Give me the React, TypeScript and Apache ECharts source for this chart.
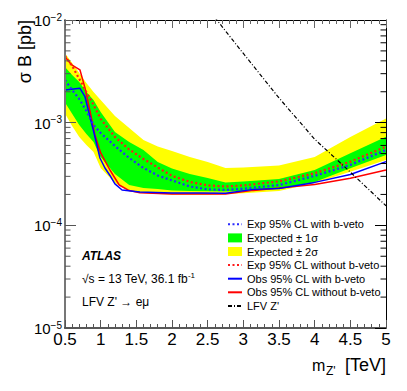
import React, { useEffect, useRef } from "react";
import * as echarts from "echarts";

const FONT = "'Liberation Sans', Arial, Helvetica, sans-serif";

// Expected limits (grid of masses, TeV) and values (pb)
const massExp = [0.5, 0.6, 0.7, 0.8, 0.9, 1.0, 1.2, 1.4, 1.6, 1.8, 2.0, 2.25, 2.5, 2.75, 3.0, 3.5, 4.0, 4.5, 5.0];
const expBveto = [2.605e-3, 2.082e-3, 1.701e-3, 1.3e-3, 9.5e-4, 7.94e-4, 5.93e-4, 4.53e-4, 3.62e-4, 3.06e-4, 2.74e-4, 2.39e-4, 2.24e-4, 2.21e-4, 2.27e-4, 2.47e-4, 3.03e-4, 3.87e-4, 5.42e-4];
const expNoBveto = [4.46e-3, 3.57e-3, 2.67e-3, 1.99e-3, 1.49e-3, 1.09e-3, 7.26e-4, 5.48e-4, 4.43e-4, 3.66e-4, 3.03e-4, 2.65e-4, 2.45e-4, 2.39e-4, 2.45e-4, 2.68e-4, 3.22e-4, 4.17e-4, 5.84e-4];
const oneSigmaHi = [3.49e-3, 2.91e-3, 2.49e-3, 1.99e-3, 1.66e-3, 1.27e-3, 8.12e-4, 6.49e-4, 5.42e-4, 4.14e-4, 3.58e-4, 3.17e-4, 2.89e-4, 2.62e-4, 2.68e-4, 2.83e-4, 3.46e-4, 5.04e-4, 7.31e-4];
const oneSigmaLo = [1.57e-3, 1.22e-3, 9.5e-4, 7.76e-4, 6.49e-4, 4.63e-4, 3.17e-4, 2.47e-4, 2.31e-4, 2.26e-4, 2.19e-4, 2.16e-4, 2.15e-4, 2.13e-4, 2.16e-4, 2.26e-4, 2.65e-4, 3.6e-4, 4.85e-4];
const twoSigmaHi = [4.74e-3, 3.81e-3, 3.05e-3, 2.44e-3, 1.99e-3, 1.66e-3, 1.16e-3, 8.88e-4, 6.79e-4, 5.87e-4, 5.3e-4, 4.63e-4, 4.14e-4, 3.62e-4, 3.66e-4, 3.83e-4, 4.63e-4, 7.26e-4, 1.1e-3];
const twoSigmaLo = [1.23e-3, 9.29e-4, 7.26e-4, 6.07e-4, 5.19e-4, 3.62e-4, 2.59e-4, 2.16e-4, 2.07e-4, 2.02e-4, 2.0e-4, 2.0e-4, 2.0e-4, 2.02e-4, 2.05e-4, 2.16e-4, 2.59e-4, 3.33e-4, 4.33e-4];

// Observed limits
const massObsBveto = [0.5, 0.71, 0.78, 0.85, 0.9, 0.99, 1.06, 1.13, 1.2, 1.3, 1.55, 2.0, 2.4, 2.75, 3.14, 3.5, 4.0, 4.5, 5.0];
const obsBveto = [2.08e-3, 2.16e-3, 1.79e-3, 1.14e-3, 8.3e-4, 4.53e-4, 3.62e-4, 3.06e-4, 2.53e-4, 2.21e-4, 2.11e-4, 2.07e-4, 2.07e-4, 2.05e-4, 2.24e-4, 2.29e-4, 2.62e-4, 3.13e-4, 4.17e-4];
const massObsNoBveto = [0.5, 0.594, 0.71, 0.78, 0.85, 0.92, 1.0, 1.13, 1.26, 1.4, 1.55, 2.0, 2.4, 2.75, 3.14, 3.5, 4.0, 4.5, 5.0];
const obsNoBveto = [4.39e-3, 3.65e-3, 3.26e-3, 2.18e-3, 1.3e-3, 7.59e-4, 5.07e-4, 3.46e-4, 2.47e-4, 2.18e-4, 2.08e-4, 2.02e-4, 2.02e-4, 2.02e-4, 2.19e-4, 2.31e-4, 2.5e-4, 2.88e-4, 3.46e-4];

// Theory LFV Z'
const massZp = [2.6, 3.0, 3.5, 4.0, 4.5, 5.0];
const xsecZp = [1.06e-2, 4.72e-3, 1.74e-3, 6.9e-4, 3.3e-4, 1.55e-4];

// Axis ticks
const xMin = 0.5;
const xMax = 5;
const xStep = 0.5;
const yMin = 1e-5;
const yMax = 1e-2;
const yMinorTicks = [
  2e-5, 3e-5, 4e-5, 5e-5, 6e-5, 7e-5, 8e-5, 9e-5,
  2e-4, 3e-4, 4e-4, 5e-4, 6e-4, 7e-4, 8e-4, 9e-4,
  2e-3, 3e-3, 4e-3, 5e-3, 6e-3, 7e-3, 8e-3, 9e-3,
];

const NAMES = {
  expB: "Exp 95% CL with b-veto",
  s1: "Expected ± 1σ",
  s2: "Expected ± 2σ",
  expN: "Exp 95% CL without b-veto",
  obsB: "Obs 95% CL with b-veto",
  obsN: "Obs 95% CL without b-veto",
  zp: "LFV Z'",
};

function bandSeries(name: string, color: string, lo: number[], hi: number[], z: number) {
  return {
    type: "custom",
    name,
    silent: true,
    z,
    itemStyle: { color },
    data: massExp.map((m, i) => [m, lo[i], hi[i]]),
    encode: { x: 0, y: [1, 2] },
    renderItem: (params: any, api: any) => {
      if (params.dataIndex !== 0) return null;
      const up = massExp.map((m, i) => api.coord([m, hi[i]]));
      const dn = massExp.map((m, i) => api.coord([m, lo[i]])).reverse();
      return {
        type: "polygon",
        shape: { points: up.concat(dn) },
        style: { fill: color, stroke: null },
      };
    },
  };
}

function lineSeries(name: string, xs: number[], ys: number[], color: string, width: number, type: any, z: number) {
  return {
    type: "line",
    name,
    z,
    data: xs.map((x, i) => [x, ys[i]]),
    showSymbol: false,
    symbol: "none",
    clip: true,
    lineStyle: { color, width, type },
    itemStyle: { color },
  };
}

export default function App() {
  const ref = useRef<HTMLDivElement>(null);
  useEffect(() => {
    document.body.style.margin = "0";
    if (!ref.current) return;
    const chart = echarts.init(ref.current, null, { renderer: "svg" });

    const xAxisCommon = {
      type: "value",
      min: xMin,
      max: xMax,
      interval: xStep,
      z: 5,
      splitLine: { show: false },
    };
    const yAxisCommon = {
      type: "log",
      logBase: 10,
      min: yMin,
      max: yMax,
      z: 5,
      splitLine: { show: false },
      minorTick: { show: false },
    };
    const hideSym = { itemStyle: { opacity: 0 } };

    const option: any = {
      animation: false,
      backgroundColor: "#ffffff",
      textStyle: { fontFamily: FONT },
      grid: { left: 65, right: 21, top: 20, bottom: 63, containLabel: false },
      xAxis: [
        {
          ...xAxisCommon,
          position: "bottom",
          axisLine: { show: true, onZero: false, lineStyle: { color: "#222", width: 1.5 } },
          axisTick: { show: true, inside: true, length: 8, lineStyle: { color: "#555", width: 1 } },
          minorTick: { show: true, splitNumber: 5, length: 4, lineStyle: { color: "#555", width: 1 } },
          axisLabel: { fontSize: 17, color: "#000", margin: 3, fontFamily: FONT },
        },
        {
          ...xAxisCommon,
          position: "top",
          axisLine: { show: true, onZero: false, lineStyle: { color: "#000", width: 1 } },
          axisTick: { show: true, inside: true, length: 8, lineStyle: { color: "#666", width: 1 } },
          minorTick: { show: true, splitNumber: 5, length: 4, lineStyle: { color: "#666", width: 1 } },
          axisLabel: { show: false },
        },
      ],
      yAxis: [
        {
          ...yAxisCommon,
          position: "left",
          axisLine: { show: true, onZero: false, lineStyle: { color: "#777", width: 2 } },
          axisTick: { show: true, inside: true, length: 11, lineStyle: { color: "#555", width: 1 } },
          axisLabel: {
            margin: 3,
            color: "#000",
            formatter: (v: number) => {
              const e = Math.round(Math.log10(v));
              return "{b|10}{s|" + (e < 0 ? "−" + -e : String(e)) + "}";
            },
            rich: {
              b: { fontSize: 15, fontFamily: FONT, color: "#000", lineHeight: 16, verticalAlign: "bottom" },
              s: { fontSize: 10, fontFamily: FONT, color: "#000", lineHeight: 10, verticalAlign: "top" },
            },
          },
        },
        {
          ...yAxisCommon,
          position: "right",
          axisLine: { show: true, onZero: false, lineStyle: { color: "#000", width: 1 } },
          axisTick: { show: true, inside: true, length: 11, lineStyle: { color: "#000", width: 1 } },
          axisLabel: { show: false },
        },
      ],
      legend: {
        orient: "vertical",
        left: 227,
        top: 217.5,
        itemWidth: 14,
        itemHeight: 9,
        itemGap: 0,
        padding: 0,
        selectedMode: false,
        textStyle: { fontSize: 11, lineHeight: 13.6, color: "#000", fontFamily: FONT },
        data: [
          { name: NAMES.expB, ...hideSym },
          { name: NAMES.s1, icon: "rect" },
          { name: NAMES.s2, icon: "rect" },
          { name: NAMES.expN, ...hideSym },
          { name: NAMES.obsB, ...hideSym },
          { name: NAMES.obsN, ...hideSym },
          { name: NAMES.zp, ...hideSym },
        ],
      },
      graphic: [
        {
          type: "text",
          x: 25,
          y: 20,
          rotation: Math.PI / 2,
          style: { text: "σ B [pb]", fontSize: 18, fontFamily: FONT, fill: "#000", align: "right", verticalAlign: "middle" },
        },
        {
          type: "text",
          x: 312,
          y: 365,
          style: { text: "m", fontSize: 16, fontFamily: FONT, fill: "#000", align: "left", verticalAlign: "middle" },
        },
        {
          type: "text",
          x: 326,
          y: 371,
          style: { text: "Z'", fontSize: 12, fontFamily: FONT, fill: "#000", align: "left", verticalAlign: "middle" },
        },
        {
          type: "text",
          x: 386,
          y: 365,
          style: { text: "[TeV]", fontSize: 18, fontFamily: FONT, fill: "#000", align: "right", verticalAlign: "middle" },
        },
        {
          type: "text",
          x: 82,
          y: 256,
          style: { text: "ATLAS", fontSize: 12, fontWeight: "bold", fontStyle: "italic", fontFamily: FONT, fill: "#000", align: "left", verticalAlign: "middle" },
        },
        {
          type: "text",
          x: 82,
          y: 278,
          style: {
            text: "{n|√s = 13 TeV, 36.1 fb}{s|-1}",
            align: "left",
            verticalAlign: "middle",
            rich: {
              n: { fontSize: 12, fontFamily: FONT, fill: "#000", color: "#000", lineHeight: 14, verticalAlign: "bottom" },
              s: { fontSize: 8, fontFamily: FONT, fill: "#000", color: "#000", lineHeight: 8, verticalAlign: "top" },
            },
          },
        },
        {
          type: "text",
          x: 82,
          y: 302,
          style: { text: "LFV Z' → eμ", fontSize: 12, fontFamily: FONT, fill: "#000", align: "left", verticalAlign: "middle" },
        },
      ],
      series: [
        bandSeries(NAMES.s2, "#ffff00", twoSigmaLo, twoSigmaHi, 1),
        bandSeries(NAMES.s1, "#00ff00", oneSigmaLo, oneSigmaHi, 1.5),
        {
          type: "custom",
          name: "minor-ticks",
          silent: true,
          z: 6,
          data: yMinorTicks.map((v) => [xMin, v]),
          encode: { x: 0, y: 1 },
          renderItem: (params: any, api: any) => {
            const p = api.coord([api.value(0), api.value(1)]);
            const cs = params.coordSys;
            const xl = cs.x;
            const xr = cs.x + cs.width;
            return {
              type: "group",
              children: [
                { type: "line", shape: { x1: xl, y1: p[1], x2: xl + 5.5, y2: p[1] }, style: { stroke: "#555", lineWidth: 1 } },
                { type: "line", shape: { x1: xr - 5.5, y1: p[1], x2: xr, y2: p[1] }, style: { stroke: "#000", lineWidth: 1 } },
              ],
            };
          },
        },
        lineSeries(NAMES.obsN, massObsNoBveto, obsNoBveto, "#ff0000", 1.5, "solid", 3),
        lineSeries(NAMES.obsB, massObsBveto, obsBveto, "#0000ff", 1.5, "solid", 3),
        lineSeries(NAMES.expB, massExp, expBveto, "#2a2aff", 2.2, [2, 2.5], 3),
        lineSeries(NAMES.expN, massExp, expNoBveto, "#ff1a1a", 2.2, [2, 2.5], 3),
        lineSeries(NAMES.zp, massZp, xsecZp, "#000000", 1.2, [4, 2, 1, 2], 4),
      ],
    };

    chart.setOption(option);
    return () => chart.dispose();
  }, []);

  return <div ref={ref} style={{ width: 407, height: 391 }} />;
}
